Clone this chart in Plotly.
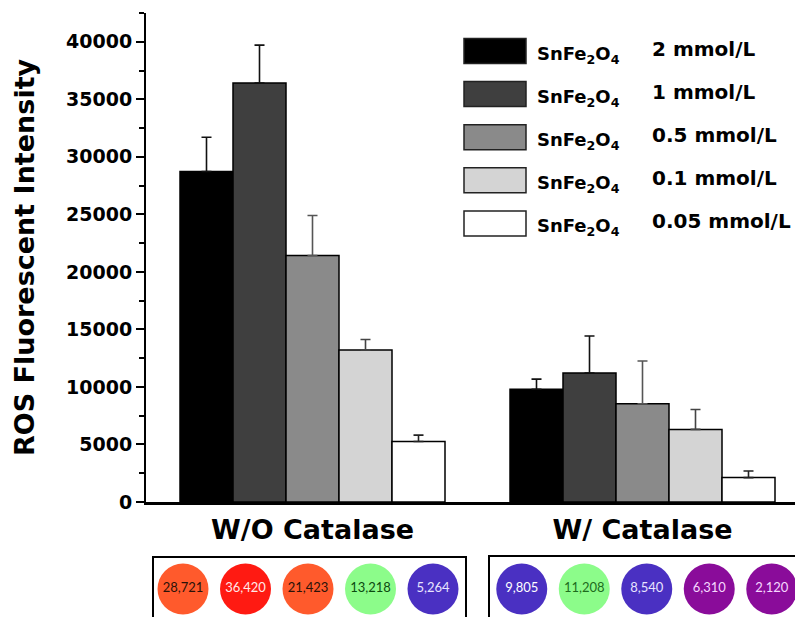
import plotly.graph_objects as go

# ---------------- data ----------------
groups = ["W/O Catalase", "W/ Catalase"]
concentrations = ["2 mmol/L", "1 mmol/L", "0.5 mmol/L", "0.1 mmol/L", "0.05 mmol/L"]
formula = "SnFe<sub>2</sub>O<sub>4</sub>"

ros_2 = [28721, 9805]
ros_1 = [36420, 11208]
ros_05 = [21423, 8540]
ros_01 = [13218, 6310]
ros_005 = [5264, 2120]

err_2 = [2980, 870]
err_1 = [3290, 3220]
err_05 = [3480, 3720]
err_01 = [900, 1730]
err_005 = [550, 570]

y_ticks = [0, 5000, 10000, 15000, 20000, 25000, 30000, 35000, 40000]

# colorimetric readout circles (same values as bars)
circle_colors_wo = ["#FF5A2C", "#FF1A12", "#FF5A2C", "#8CFC8A", "#4A30C2"]
circle_colors_w = ["#4A30C2", "#8CFC8A", "#4A30C2", "#8A0C9A", "#8A0C9A"]
circle_text_wo = ["#2a1208", "#ffe8e8", "#2a1208", "#0c4a10", "#e8e4ff"]
circle_text_w = ["#ffffff", "#1d6b1d", "#e8e4ff", "#f6d8ff", "#f6d8ff"]

# ---------------- styles ----------------
series = [ros_2, ros_1, ros_05, ros_01, ros_005]
errors = [err_2, err_1, err_05, err_01, err_005]
bar_fills = ["#000000", "#3f3f3f", "#8a8a8a", "#d4d4d4", "#ffffff"]
err_colors = ["#111111", "#111111", "#555555", "#444444", "#222222"]

BOLD = "DejaVu Sans"

fig = go.Figure()
for vals, errs, fill, ec, conc in zip(series, errors, bar_fills, err_colors, concentrations):
    fig.add_trace(go.Bar(
        x=groups, y=vals, name="SnFe2O4 " + conc,
        marker=dict(color=fill, line=dict(color="#000000", width=1.5)),
        error_y=dict(type="data", symmetric=False, array=errs,
                     arrayminus=[0] * len(errs), color=ec, thickness=1.6, width=5),
        showlegend=False,
    ))

# circles below the chart
all_vals = [s[0] for s in series] + [s[1] for s in series]
circle_x = [i for i in range(5)] + [5.42 + j for j in range(5)]

# the page places the figure 8 px from the window's top-left corner
OFF = 8
WIN_W, WIN_H = 803, 617
W, H = WIN_W - OFF, WIN_H - OFF
ML, MT, MB, MR = 146 - OFF, 13 - OFF, 0, 0
plot_w = W - ML - MR
plot_h = H - MT - MB
FIG_BOTTOM = H + OFF  # screen y of the figure's bottom edge
FIG_RIGHT = W + OFF


def px_x(sx):
    return (sx - OFF - ML) / plot_w


def px_y(sy):
    return (H - MB - (sy - OFF)) / plot_h


AXIS_Y = 502
y_dom_bottom = px_y(AXIS_Y)
circle_cy = 589
y2_lo = -(FIG_BOTTOM - circle_cy) / (FIG_BOTTOM - AXIS_Y)

# x2: unit = 62.5 px, first circle centre at screen x = 183
unit = 62.5
x2_lo = -(183 - 146) / unit
x2_hi = x2_lo + (FIG_RIGHT - 146) / unit
# x: category axis, group centres at 312.5 and 642.5 screen px
cat_unit = 330.0
x_lo = -(312.5 - 146) / cat_unit
x_hi = x_lo + (FIG_RIGHT - 146) / cat_unit

fig.add_trace(go.Scatter(
    x=circle_x, y=[0] * len(circle_x), xaxis="x2", yaxis="y2",
    mode="markers+text",
    marker=dict(size=51, color=circle_colors_wo + circle_colors_w, line=dict(width=0)),
    text=[f"{v:,}" for v in all_vals],
    textposition="middle center",
    textfont=dict(family="Lato, Open Sans, sans-serif", size=13,
                  color=circle_text_wo + circle_text_w),
    showlegend=False, hoverinfo="skip", cliponaxis=False,
))

shapes = []
annotations = []

# boxes around circles
shapes.append(dict(type="rect", xref="paper", yref="paper",
                   x0=px_x(153), x1=px_x(466), y0=px_y(640), y1=px_y(557),
                   line=dict(color="#000000", width=2), fillcolor="rgba(0,0,0,0)"))
shapes.append(dict(type="rect", xref="paper", yref="paper",
                   x0=px_x(489), x1=px_x(800), y0=px_y(640), y1=px_y(556),
                   line=dict(color="#000000", width=2), fillcolor="rgba(0,0,0,0)"))

# custom legend
for i, (fill, conc) in enumerate(zip(bar_fills, concentrations)):
    cy = 51 + 43.1 * i
    shapes.append(dict(type="rect", xref="paper", yref="paper",
                       x0=px_x(464), x1=px_x(526), y0=px_y(cy + 12.5), y1=px_y(cy - 12.5),
                       fillcolor=fill, line=dict(color="#222222", width=1.5)))
    annotations.append(dict(xref="paper", yref="paper", x=px_x(535), y=px_y(cy + 4),
                            xanchor="left", yanchor="middle", showarrow=False,
                            text="<b>" + formula + "</b>",
                            font=dict(family=BOLD, size=18, color="#000000")))
    annotations.append(dict(xref="paper", yref="paper", x=px_x(650), y=px_y(cy - 2),
                            xanchor="left", yanchor="middle", showarrow=False,
                            text="<b>" + conc + "</b>",
                            font=dict(family=BOLD, size=20, color="#000000")))

# y-axis title
annotations.append(dict(xref="paper", yref="paper", x=px_x(25), y=px_y(257),
                        xanchor="center", yanchor="middle", showarrow=False, textangle=-90,
                        text="<b>ROS Fluorescent Intensity</b>",
                        font=dict(family=BOLD, size=27, color="#000000")))

fig.update_layout(
    width=W, height=H, autosize=False,
    margin=dict(l=ML, r=MR, t=MT, b=MB, pad=0, autoexpand=False),
    paper_bgcolor="#ffffff", plot_bgcolor="#ffffff",
    barmode="group", bargap=0.197, bargroupgap=0,
    showlegend=False,
    xaxis=dict(type="category", domain=[0, 1], anchor="y", range=[x_lo, x_hi],
               automargin=False,
               showline=True, linecolor="#000000", linewidth=2.5, ticks="",
               showgrid=False, zeroline=False, ticklabelstandoff=2,
               tickfont=dict(family=BOLD, size=27, color="#000000"),
               tickvals=groups, ticktext=["<b>" + g + "</b>" for g in groups]),
    yaxis=dict(domain=[y_dom_bottom, 1], anchor="x", range=[0, 42500],
               automargin=False,
               showline=True, linecolor="#000000", linewidth=2,
               ticks="outside", ticklen=8, tickwidth=2, tickcolor="#000000",
               tickvals=y_ticks, ticktext=["<b>%d</b>" % t for t in y_ticks],
               minor=dict(dtick=2500, ticks="outside", ticklen=5, tickwidth=2, tickcolor="#000000"),
               showgrid=False, zeroline=False,
               tickfont=dict(family=BOLD, size=19, color="#000000")),
    xaxis2=dict(domain=[0, 1], anchor="y2", range=[x2_lo, x2_hi], visible=False,
                automargin=False),
    yaxis2=dict(domain=[0, y_dom_bottom], anchor="x2", range=[y2_lo, y2_lo + 1], visible=False,
                automargin=False),
    shapes=shapes, annotations=annotations,
)

fig.write_html("out.html")
